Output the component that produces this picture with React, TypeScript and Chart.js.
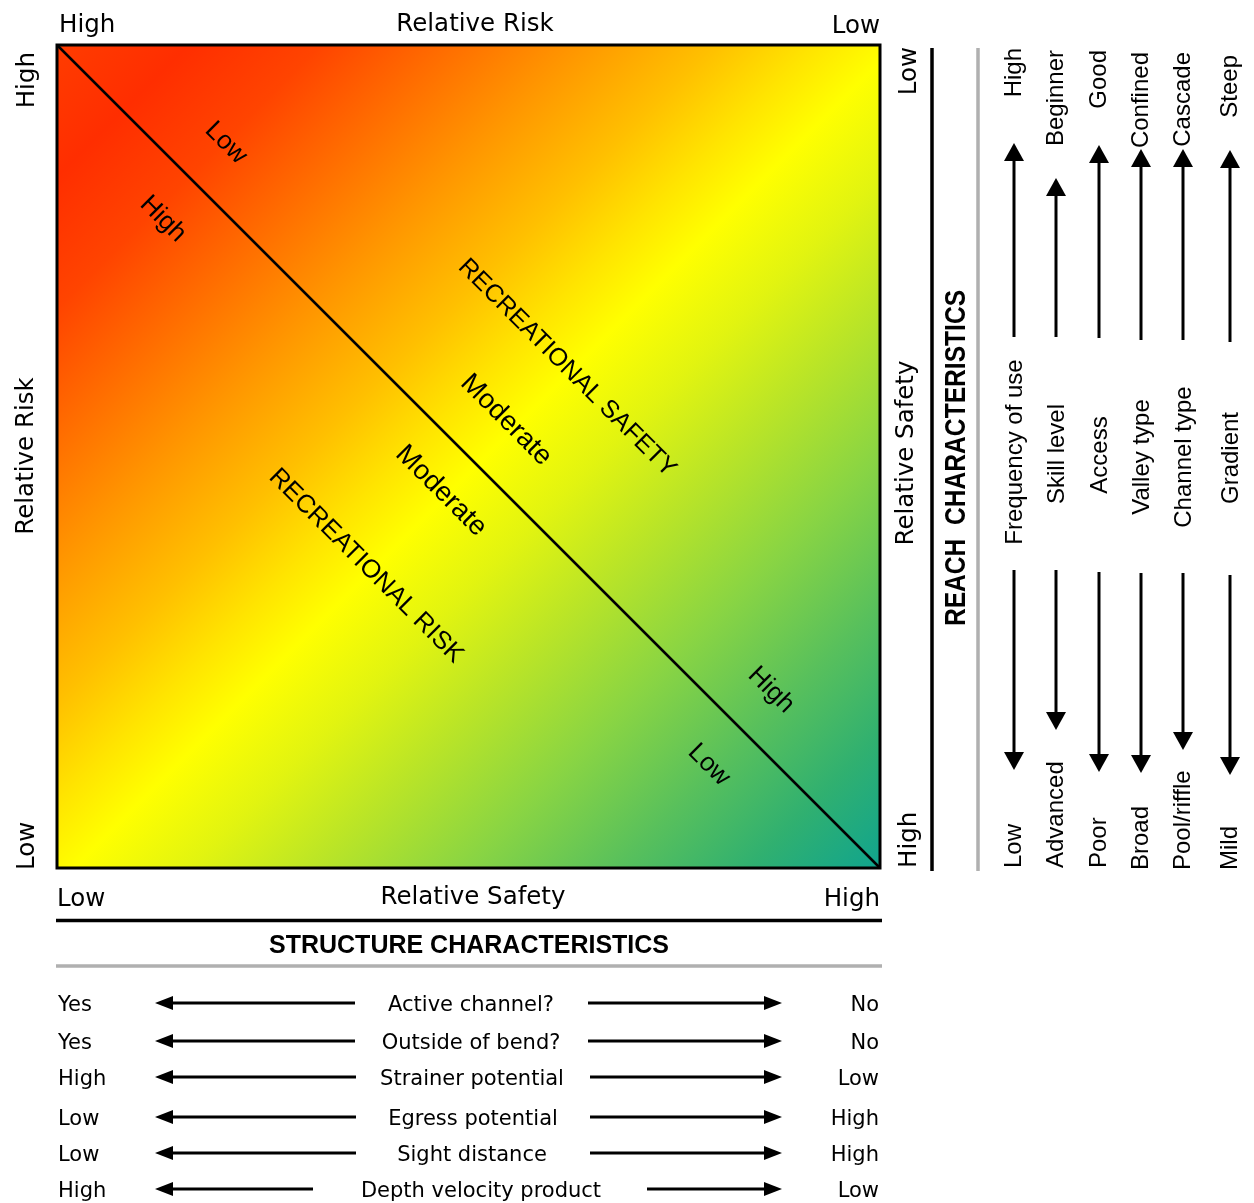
import React, { useEffect, useRef } from "react";
import { Chart, registerables } from "chart.js";

Chart.register(...registerables);

// ---------- data ----------
const dividerX = [0, 1];
const dividerY = [1, 0];

const topAxisLabels = ["High", "Relative Risk", "Low"];
const bottomAxisLabels = ["Low", "Relative Safety", "High"];
const leftAxisLabels = ["High", "Relative Risk", "Low"];
const rightAxisLabels = ["Low", "Relative Safety", "High"];

const zoneLabels = ["Low", "High", "RECREATIONAL SAFETY", "Moderate", "Moderate", "RECREATIONAL RISK", "High", "Low"];

const reachHeader = "REACH  CHARACTERISTICS";
const reachFactors = ["Frequency of use", "Skill level", "Access", "Valley type", "Channel type", "Gradient"];
const reachSafeEnd = ["High", "Beginner", "Good", "Confined", "Cascade", "Steep"];
const reachRiskEnd = ["Low", "Advanced", "Poor", "Broad", "Pool/riffle", "Mild"];

const structureHeader = "STRUCTURE CHARACTERISTICS";
const structureFactors = ["Active channel?", "Outside of bend?", "Strainer potential", "Egress potential", "Sight distance", "Depth velocity product"];
const structureRiskEnd = ["Yes", "Yes", "High", "Low", "Low", "High"];
const structureSafeEnd = ["No", "No", "Low", "High", "High", "Low"];

// ---------- layout (not data) ----------
const W = 1254;
const H = 1203;
const zoneAnchors: number[][] = [
  [0.2054, 0.8809], [0.1288, 0.7886], [0.6197, 0.6075], [0.5456, 0.5443],
  [0.4666, 0.4581], [0.3755, 0.367], [0.8676, 0.2163], [0.7922, 0.1252],
];
const zoneFonts = [26, 26, 25, 27.5, 27.5, 25.5, 26, 26];

const reachColX = [1014, 1056, 1099, 1141, 1183, 1230];
const reachTopEnd = [48, 50, 50, 52, 52, 55];
const reachUpTip = [143, 178, 145, 149, 149, 150];
const reachUpTail = [337, 337, 338, 340, 340, 342];
const reachMidY = [452, 454, 455, 457, 457, 458];
const reachDownTail = [570, 570, 572, 573, 573, 575];
const reachDownTip = [770, 730, 772, 773, 750, 775];
const reachBottomStart = [868, 868, 868, 870, 870, 870];

const rowY = [1003, 1041, 1077, 1117, 1153, 1189];
const rowMidX = [471, 471, 472, 473, 472, 481];
const rowLeftTail = [355, 355, 356, 356, 356, 313];
const rowRightTail = [588, 588, 590, 590, 590, 647];

const gradientStops: [number, string][] = [
  [0.0, "#ff3c00"], [0.08, "#ff2e00"], [0.16, "#ff4400"], [0.24, "#ff6e00"],
  [0.32, "#ff9800"], [0.4, "#ffc000"], [0.46, "#ffe400"], [0.51, "#ffff00"],
  [0.58, "#e2f410"], [0.66, "#b8e428"], [0.75, "#88d444"], [0.84, "#58c05c"],
  [0.92, "#30b070"], [1.0, "#10a48e"],
];

const SANS = "'Liberation Sans', Arial, sans-serif";
const DJV = "'DejaVu Sans', sans-serif";

function drawText(
  ctx: CanvasRenderingContext2D, s: string, x: number, y: number, font: string,
  align: CanvasTextAlign = "left", baseline: CanvasTextBaseline = "alphabetic", rot = 0, sx = 1,
) {
  ctx.save();
  ctx.translate(x, y);
  if (rot) ctx.rotate(rot);
  if (sx !== 1) ctx.scale(sx, 1);
  ctx.font = font;
  ctx.textAlign = align;
  ctx.textBaseline = baseline;
  ctx.fillStyle = "#000";
  ctx.fillText(s, 0, 0);
  ctx.restore();
}

function arrowV(ctx: CanvasRenderingContext2D, x: number, tail: number, tip: number) {
  const dir = tip > tail ? 1 : -1;
  const hl = 18, hw = 10;
  ctx.save();
  ctx.strokeStyle = "#000";
  ctx.fillStyle = "#000";
  ctx.lineWidth = 3;
  ctx.beginPath();
  ctx.moveTo(x, tail);
  ctx.lineTo(x, tip - dir * hl);
  ctx.stroke();
  ctx.beginPath();
  ctx.moveTo(x, tip);
  ctx.lineTo(x - hw, tip - dir * hl);
  ctx.lineTo(x + hw, tip - dir * hl);
  ctx.closePath();
  ctx.fill();
  ctx.restore();
}

function arrowH(ctx: CanvasRenderingContext2D, y: number, tail: number, tip: number) {
  const dir = tip > tail ? 1 : -1;
  const hl = 18, hw = 7;
  ctx.save();
  ctx.strokeStyle = "#000";
  ctx.fillStyle = "#000";
  ctx.lineWidth = 3;
  ctx.beginPath();
  ctx.moveTo(tail, y);
  ctx.lineTo(tip - dir * hl, y);
  ctx.stroke();
  ctx.beginPath();
  ctx.moveTo(tip, y);
  ctx.lineTo(tip - dir * hl, y - hw);
  ctx.lineTo(tip - dir * hl, y + hw);
  ctx.closePath();
  ctx.fill();
  ctx.restore();
}

const diagramPlugin = {
  id: "diagram",
  beforeDatasetsDraw(chart: any) {
    const { ctx, chartArea } = chart;
    const { left, top, right, bottom } = chartArea;
    const g = ctx.createLinearGradient(left, top, right, bottom);
    gradientStops.forEach(([p, c]) => g.addColorStop(p, c));
    ctx.save();
    ctx.fillStyle = g;
    ctx.fillRect(left, top, right - left, bottom - top);
    ctx.restore();
  },
  afterDatasetsDraw(chart: any) {
    const { ctx, chartArea, scales } = chart;
    const { left, top, right, bottom } = chartArea;
    ctx.save();
    ctx.strokeStyle = "#000";
    ctx.lineWidth = 3;
    ctx.strokeRect(left, top, right - left, bottom - top);
    ctx.restore();
    zoneLabels.forEach((s, i) => {
      const px = scales.x.getPixelForValue(zoneAnchors[i][0]);
      const py = scales.y.getPixelForValue(zoneAnchors[i][1]);
      drawText(ctx, s, px, py, `${zoneFonts[i]}px ${SANS}`, "center", "middle", Math.PI / 4);
    });
  },
  afterDraw(chart: any) {
    const { ctx, chartArea } = chart;
    const { left, right } = chartArea;
    const axisFont = `24.5px ${DJV}`;
    const up = -Math.PI / 2;

    // top axis
    drawText(ctx, topAxisLabels[0], left + 2, 32, axisFont, "left");
    drawText(ctx, topAxisLabels[1], 475, 31, axisFont, "center");
    drawText(ctx, topAxisLabels[2], right, 33, axisFont, "right");
    // bottom axis
    drawText(ctx, bottomAxisLabels[0], left, 906, axisFont, "left");
    drawText(ctx, bottomAxisLabels[1], 473, 904, axisFont, "center");
    drawText(ctx, bottomAxisLabels[2], right, 906, axisFont, "right");
    // left axis
    drawText(ctx, leftAxisLabels[0], 34, 52, axisFont, "right", "alphabetic", up);
    drawText(ctx, leftAxisLabels[1], 33, 456, axisFont, "center", "alphabetic", up);
    drawText(ctx, leftAxisLabels[2], 34, 870, axisFont, "left", "alphabetic", up);
    // right axis
    drawText(ctx, rightAxisLabels[0], 916, 47, axisFont, "right", "alphabetic", up);
    drawText(ctx, rightAxisLabels[1], 913, 453, axisFont, "center", "alphabetic", up);
    drawText(ctx, rightAxisLabels[2], 916, 868, axisFont, "left", "alphabetic", up);

    // separators
    ctx.save();
    ctx.lineWidth = 3.5;
    ctx.strokeStyle = "#000";
    ctx.beginPath();
    ctx.moveTo(932, 48);
    ctx.lineTo(932, 871);
    ctx.moveTo(56, 920.5);
    ctx.lineTo(882, 920.5);
    ctx.stroke();
    ctx.strokeStyle = "#b0b0b0";
    ctx.beginPath();
    ctx.moveTo(978, 48);
    ctx.lineTo(978, 871);
    ctx.moveTo(56, 966);
    ctx.lineTo(882, 966);
    ctx.stroke();
    ctx.restore();

    // reach characteristics
    drawText(ctx, reachHeader, 965, 458, `bold 30px ${SANS}`, "center", "alphabetic", up, 0.82);
    const rf = `24px ${SANS}`;
    reachFactors.forEach((s, i) => {
      const x = reachColX[i];
      drawText(ctx, reachSafeEnd[i], x + 7, reachTopEnd[i], rf, "right", "alphabetic", up);
      arrowV(ctx, x, reachUpTail[i], reachUpTip[i]);
      drawText(ctx, s, x + 8, reachMidY[i], rf, "center", "alphabetic", up);
      arrowV(ctx, x, reachDownTail[i], reachDownTip[i]);
      drawText(ctx, reachRiskEnd[i], x + 7, reachBottomStart[i], rf, "left", "alphabetic", up);
    });

    // structure characteristics
    drawText(ctx, structureHeader, 469, 953, `bold 25px ${SANS}`, "center");
    const sf = `21px ${DJV}`;
    structureFactors.forEach((s, i) => {
      const y = rowY[i];
      drawText(ctx, structureRiskEnd[i], left + 1, y + 8, sf, "left");
      arrowH(ctx, y, rowLeftTail[i], 155);
      drawText(ctx, s, rowMidX[i], y + 8, sf, "center");
      arrowH(ctx, y, rowRightTail[i], 782);
      drawText(ctx, structureSafeEnd[i], 879, y + 8, sf, "right");
    });
  },
};

export default function App() {
  const ref = useRef<HTMLCanvasElement | null>(null);
  useEffect(() => {
    document.body.style.margin = "0";
    const canvas = ref.current;
    if (!canvas) return;
    const chart = new Chart(canvas, {
      type: "scatter",
      data: {
        datasets: [
          {
            data: dividerX.map((x, i) => ({ x, y: dividerY[i] })),
            showLine: true,
            borderColor: "#000",
            borderWidth: 2.5,
            pointRadius: 0,
            clip: false as any,
          },
        ],
      },
      options: {
        responsive: false,
        animation: false,
        devicePixelRatio: 1,
        layout: { padding: { left: 57, top: 45, right: W - 880, bottom: H - 868 } },
        scales: {
          x: { type: "linear", min: 0, max: 1, display: false },
          y: { type: "linear", min: 0, max: 1, display: false },
        },
        plugins: { legend: { display: false }, tooltip: { enabled: false } },
      },
      plugins: [diagramPlugin],
    });
    return () => chart.destroy();
  }, []);
  return (
    <div style={{ position: "absolute", left: 0, top: 0, width: W, height: H, background: "#fff" }}>
      <canvas ref={ref} width={W} height={H} style={{ display: "block" }} />
    </div>
  );
}
